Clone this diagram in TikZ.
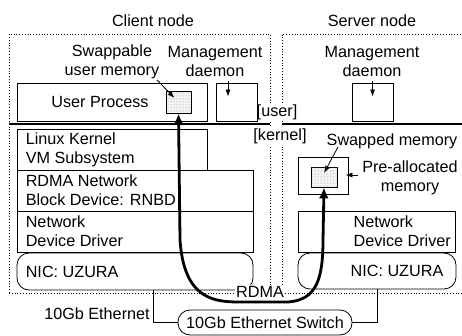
\documentclass[tikz,border=0pt]{standalone}
\usepackage{fontspec}
\setmainfont{Liberation Sans}
\usetikzlibrary{arrows.meta,fit,patterns}

\tikzset{
	box/.style={draw, line width=0.8pt, inner sep=0pt},
	nicbox/.style={box, rounded corners=12pt},
	region/.style={draw, dotted, line width=0.8pt, inner sep=0pt},
	memblk/.style={box, fill=gray!8, postaction={pattern=dots, pattern color=black!45}},
	txt/.style={inner sep=1pt, align=center, font=\fontsize{16.2}{19}\selectfont},
	ltxt/.style={txt, align=left, anchor=west},
	ptr/.style={line width=0.8pt, -{Latex[length=7pt,width=5pt]}},
	rdma/.style={line width=2.8pt, {Latex[length=11pt,width=10pt]}-{Latex[length=11pt,width=10pt]}}
}

\begin{document}
\begin{tikzpicture}[x=1pt,y=-1pt]
			\useasboundingbox (0,0) rectangle (462,336);
			\clip (0,0) rectangle (462,336);
			% node frames
			\node [region, fit={(9,34) (270,293)}] (client) {};
			\node [region, fit={(282,34) (470,293)}] (server) {};
			\node [txt] (clientlbl) at (153,21) {Client node};
			\node [txt] (serverlbl) at (372,21) {Server node};
			% user / kernel boundary
			\draw [line width=1.2pt] (client.west |- 0,124) -- (client.east |- 0,124);
			\draw [line width=1.2pt] (server.west |- 0,124) -- (server.east |- 0,124);
			\node [txt, fill=white] (userlbl) at (277,112) {[user]};
			\node [txt, fill=white] (kernlbl) at (280,136) {[kernel]};
			% client: user space
			\node [box, fit={(17,83) (207,121)}] (uproc) {};
			\node [txt] at (100,102) {User Process};
			\node [memblk, fit={(166,91) (191,113)}] (cswap) {};
			\node [txt] (cswaplbl) at (112,62) {Swappable\\user memory};
			\draw [ptr] (157,80) -- ([xshift=-4pt,yshift=4pt]cswap.center);
			\node [box, fit={(216,83) (257,121)}] (cmgmt) {};
			\node [txt] (cmgmtlbl) at (215,62) {Management\\daemon};
			\draw [ptr] ([xshift=-8.5pt,yshift=2pt]cmgmt.north) -- ++(0,16);
			% client: kernel stack
			\node [box, fit={(17,129) (207,170)}] (vm) {};
			\node [ltxt] at ([xshift=8pt]vm.west) {Linux Kernel\\VM Subsystem};
			\node [box, fit={(17,170) (253,211)}] (rnbd) {};
			\node [ltxt] at ([xshift=8pt]rnbd.west) {RDMA Network\\Block Device: RNBD};
			\node [box, fit={(17,211) (253,252)}] (cdrv) {};
			\node [ltxt] at ([xshift=8pt]cdrv.west) {Network\\Device Driver};
			\node [nicbox, fit={(17,253) (253,290)}] (cnic) {};
			\node [ltxt] at ([xshift=8pt]cnic.west) {NIC: UZURA};
			% server: user space
			\node [box, fit={(352,83) (393,121)}] (smgmt) {};
			\node [txt] (smgmtlbl) at (372,62) {Management\\daemon};
			\draw [ptr] ([yshift=2pt]smgmt.north) -- ++(0,16);
			% server: kernel stack
			\node [box, fit={(298,157) (348,194)}] (prealloc) {};
			\node [memblk, fit={(311,167) (337,187)}] (sswap) {};
			\node [txt] (sswaplbl) at (392,141) {Swapped memory};
			\draw [ptr] (338,147) -- ([yshift=4pt]sswap.center);
			\node [txt] (prealloclbl) at (410,178) {Pre-allocated\\memory};
			\draw [ptr] (358,175) -- ([xshift=-3pt]prealloc.east |- 0,175);
			\node [box, fit={(298,211) (455,252)}] (sdrv) {};
			\node [ltxt] at ([xshift=-103pt]sdrv.east) {Network\\Device Driver};
			\node [nicbox, fit={(298,253) (456,289)}] (snic) {};
			\node [txt] at (397,271) {NIC: UZURA};
			% ethernet
			\node [nicbox, fit={(178,310) (352,335)}] (switch) {};
			\node [txt] at (265,323) {10Gb Ethernet Switch};
			\node [txt] (ethlbl) at (97,314) {10Gb Ethernet};
			\draw [line width=0.8pt] ([xshift=18pt]cnic.south) |- (switch.west);
			\draw [line width=0.8pt] (snic.south) |- (switch.east);
			% swap path over RDMA
			\node [txt, fill=white] (rdmalbl) at (260,292) {RDMA};
			\draw [rdma] (cswap.south) -- (180,240) .. controls (184,300) and (215,302) .. (240,302)
				-- (288,302) .. controls (316,300) and (323,280) .. (323,240) -- (sswap.south);
\end{tikzpicture}
\end{document}
